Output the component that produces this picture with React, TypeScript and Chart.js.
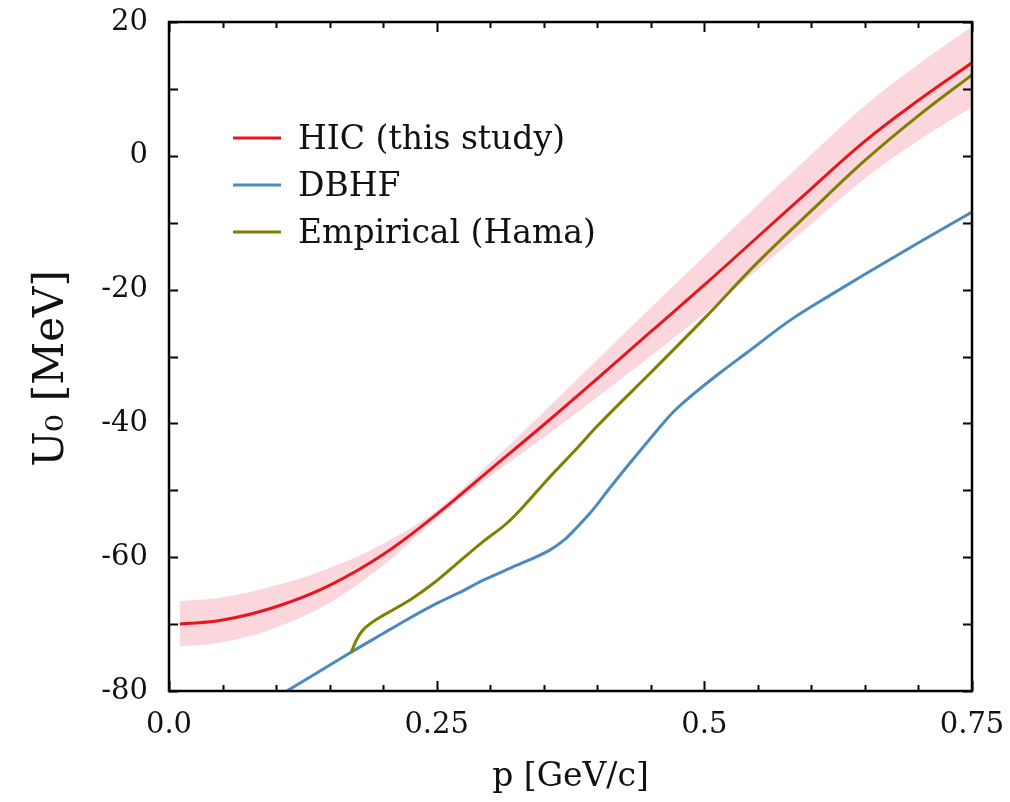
import React, { useEffect, useRef } from "react";
import { Chart, registerables } from "chart.js";
Chart.register(...registerables);

// ---- data ----
const pHIC = [0.01, 0.05, 0.1, 0.15, 0.2, 0.25, 0.3, 0.35, 0.4, 0.45, 0.5, 0.55, 0.6, 0.65, 0.7, 0.75];
const uHIC = [-70.0, -69.4, -67.4, -64.2, -59.6, -53.6, -46.9, -40.2, -33.3, -26.3, -19.3, -12.1, -4.9, 2.2, 8.3, 13.9];
const uHICUpper = [-66.6, -66.0, -64.2, -61.6, -58.0, -53.0, -45.9, -38.3, -30.5, -22.7, -15.0, -7.3, 0.2, 7.5, 13.7, 19.3];
const uHICLower = [-73.3, -72.7, -70.5, -66.8, -61.2, -54.2, -47.9, -42.1, -36.1, -29.9, -23.6, -17.0, -10.2, -3.4, 2.3, 7.3];

const pDBHF = [0.11, 0.138, 0.17, 0.2, 0.216, 0.25, 0.275, 0.294, 0.325, 0.356, 0.37, 0.38, 0.39, 0.4, 0.409, 0.425, 0.44, 0.455, 0.471, 0.49, 0.515, 0.54, 0.58, 0.62, 0.65, 0.7, 0.75];
const uDBHF = [-80.0, -77.3, -74.2, -71.4, -69.9, -66.9, -65.0, -63.4, -61.2, -58.9, -57.3, -55.7, -54.0, -52.1, -50.2, -47.0, -44.1, -41.2, -38.3, -35.6, -32.4, -29.4, -24.6, -20.6, -17.7, -13.0, -8.4];

const pEmp = [0.17, 0.175, 0.18, 0.19, 0.2, 0.225, 0.247, 0.27, 0.293, 0.315, 0.33, 0.354, 0.38, 0.4, 0.45, 0.5, 0.55, 0.6, 0.65, 0.7, 0.75];
const uEmp = [-74.3, -72.4, -71.1, -69.7, -68.7, -66.4, -63.9, -60.8, -57.7, -55.0, -52.6, -48.3, -43.9, -40.4, -32.4, -24.3, -15.9, -8.2, -0.7, 6.0, 12.1];

const seriesLabels = ["HIC (this study)", "DBHF", "Empirical (Hama)"];
const seriesColors = ["#e8161c", "#4a8abf", "#7f7f00"];
const bandColor = "#fcd6dd";

const xTickValues = [0, 0.25, 0.5, 0.75];
const xTickLabels = ["0.0", "0.25", "0.5", "0.75"];
const yTickValues = [-80, -60, -40, -20, 0, 20];
const xTitle = "p [GeV/c]";
const yTitle = "U\u2080 [MeV]";

const FONT = "'DejaVu Serif', 'Liberation Serif', serif";

const pts = (xs: number[], ys: number[]) => xs.map((x, i) => ({ x, y: ys[i] }));

const framePlugin = {
  id: "frame",
  afterDatasetsDraw(chart: any) {
    const { ctx, chartArea, scales } = chart;
    const { left, right, top, bottom } = chartArea;
    const xs = scales.x;
    const ys = scales.y;
    ctx.save();
    ctx.strokeStyle = "#000";
    ctx.lineWidth = 2;
    const seg = (x1: number, y1: number, x2: number, y2: number) => {
      ctx.beginPath();
      ctx.moveTo(x1, y1);
      ctx.lineTo(x2, y2);
      ctx.stroke();
    };
    // x ticks: minor every 0.05, major every 0.25
    for (let k = 0; k <= 15; k++) {
      const v = k * 0.05;
      const px = Math.round(xs.getPixelForValue(v)) + 0.5;
      const len = k % 5 === 0 ? 10 : 6;
      seg(px, bottom, px, bottom - len);
      seg(px, top, px, top + len);
    }
    // y ticks every 10
    for (let v = -80; v <= 20; v += 10) {
      const py = Math.round(ys.getPixelForValue(v)) + 0.5;
      const len = 9;
      seg(left, py, left + len, py);
      seg(right, py, right - len, py);
    }
    ctx.lineWidth = 2.5;
    ctx.strokeRect(left, top, right - left, bottom - top);

    // legend
    const lx = left + 64;
    const ly = top + 116;
    const gap = 47;
    ctx.font = `33px ${FONT}`;
    ctx.textBaseline = "middle";
    ctx.textAlign = "left";
    seriesLabels.forEach((lab, i) => {
      const yy = ly + i * gap;
      ctx.strokeStyle = seriesColors[i];
      ctx.lineWidth = 3;
      seg(lx, yy, lx + 48, yy);
      ctx.fillStyle = "#111";
      ctx.fillText(lab, lx + 65, yy + 2);
    });

    // y axis title
    ctx.save();
    ctx.translate(52, (top + bottom) / 2 + 12);
    ctx.rotate(-Math.PI / 2);
    ctx.font = `42px ${FONT}`;
    ctx.textAlign = "center";
    ctx.textBaseline = "middle";
    ctx.fillStyle = "#111";
    ctx.fillText(yTitle, 0, 0);
    ctx.restore();

    ctx.restore();
  },
};

export default function App() {
  const ref = useRef<HTMLCanvasElement | null>(null);
  useEffect(() => {
    if (!ref.current) return;
    const chart = new Chart(ref.current, {
      type: "line",
      data: {
        datasets: [
          {
            label: "upper",
            data: pts(pHIC, uHICUpper),
            borderWidth: 0,
            pointRadius: 0,
            backgroundColor: bandColor,
            borderColor: "rgba(0,0,0,0)",
            fill: "+1",
            tension: 0.4,
            order: 10,
          },
          {
            label: "lower",
            data: pts(pHIC, uHICLower),
            borderWidth: 0,
            pointRadius: 0,
            borderColor: "rgba(0,0,0,0)",
            fill: false,
            tension: 0.4,
            order: 10,
          },
          {
            label: seriesLabels[0],
            data: pts(pHIC, uHIC),
            borderColor: seriesColors[0],
            borderWidth: 3,
            pointRadius: 0,
            fill: false,
            tension: 0.4,
            order: 1,
          },
          {
            label: seriesLabels[1],
            data: pts(pDBHF, uDBHF),
            borderColor: seriesColors[1],
            borderWidth: 3,
            pointRadius: 0,
            fill: false,
            cubicInterpolationMode: "monotone",
            order: 2,
          },
          {
            label: seriesLabels[2],
            data: pts(pEmp, uEmp),
            borderColor: seriesColors[2],
            borderWidth: 3,
            pointRadius: 0,
            fill: false,
            cubicInterpolationMode: "monotone",
            order: 0,
          },
        ],
      },
      options: {
        animation: false,
        responsive: true,
        maintainAspectRatio: false,
        layout: { padding: { left: 27, right: 38, top: 22, bottom: 0 } },
        plugins: { legend: { display: false }, tooltip: { enabled: false } },
        scales: {
          x: {
            type: "linear",
            min: 0,
            max: 0.75,
            grid: { display: false, drawTicks: false },
            border: { display: false },
            afterBuildTicks: (s: any) => {
              s.ticks = xTickValues.map((v) => ({ value: v }));
            },
            afterFit: (s: any) => {
              s.height = 111;
              s.paddingLeft = 0;
              s.paddingRight = 0;
            },
            ticks: {
              autoSkip: false,
              maxRotation: 0,
              padding: 17,
              color: "#111",
              font: { family: FONT, size: 29 },
              callback: (v: any) => {
                const i = xTickValues.findIndex((t) => Math.abs(t - Number(v)) < 1e-9);
                return i >= 0 ? xTickLabels[i] : "";
              },
            },
            title: {
              display: true,
              text: xTitle,
              color: "#111",
              font: { family: FONT, size: 33 },
              padding: { top: 0, bottom: 5 },
            },
          },
          y: {
            type: "linear",
            min: -80,
            max: 20,
            grid: { display: false, drawTicks: false },
            border: { display: false },
            afterBuildTicks: (s: any) => {
              s.ticks = yTickValues.map((v) => ({ value: v }));
            },
            afterFit: (s: any) => {
              s.width = 142;
              s.paddingTop = 0;
              s.paddingBottom = 0;
            },
            ticks: {
              autoSkip: false,
              padding: 21,
              color: "#111",
              font: { family: FONT, size: 29 },
            },
            title: { display: false },
          },
        },
      },
      plugins: [framePlugin],
    } as any);
    return () => chart.destroy();
  }, []);
  return (
    <div style={{ position: "absolute", left: 0, top: 0, width: 1010, height: 802, background: "#fff" }}>
      <canvas ref={ref} />
    </div>
  );
}
